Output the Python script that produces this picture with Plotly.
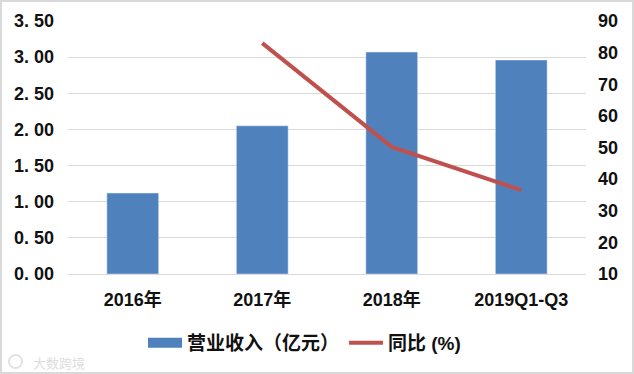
import plotly.graph_objects as go

categories = ["2016年", "2017年", "2018年", "2019Q1-Q3"]
revenue = [1.12, 2.05, 3.07, 2.96]
yoy = [None, 83, 50.2, 36.5]
left_ticks = [0, 0.5, 1, 1.5, 2, 2.5, 3, 3.5]
left_labels = ["0. 00", "0. 50", "1. 00", "1. 50", "2. 00", "2. 50", "3. 00", "3. 50"]
right_ticks = [10, 20, 30, 40, 50, 60, 70, 80, 90]

W, H = 634, 374
L, R, T, B = 68, 48, 21, 100
pw, ph = W - L - R, H - T - B
FONT = "Liberation Sans, Noto Sans CJK SC"
TXT = "#111111"
BLUE = "#4F81BD"
px = lambda v: (v - L) / pw
py = lambda v: 1 + (T - v) / ph

fig = go.Figure()
fig.add_bar(x=categories, y=revenue, name="营业收入（亿元）", marker_color=BLUE, width=0.4, showlegend=False)
fig.add_scatter(x=[categories[0]], y=[None], name="营业收入（亿元）", mode="lines",
                line=dict(color=BLUE, width=12), showlegend=True)
fig.add_scatter(x=categories, y=yoy, name="同比 (%)", yaxis="y2", mode="lines",
                line=dict(color="#C0504D", width=4), showlegend=True)
fig.update_layout(
    width=W, height=H, autosize=False,
    margin=dict(l=L, r=R, t=T, b=B),
    paper_bgcolor="white", plot_bgcolor="white",
    font=dict(family=FONT, color=TXT),
    xaxis=dict(type="category", showline=True, linecolor="#D9D9D9", linewidth=1, ticks="",
               showgrid=False, tickfont=dict(size=18, family=FONT, weight="bold"), ticklabelstandoff=9),
    yaxis=dict(range=[0, 3.5], tickvals=left_ticks, ticktext=left_labels, showgrid=True,
               gridcolor="#D9D9D9", gridwidth=1, zeroline=False, ticks="",
               tickfont=dict(size=18, family=FONT, weight="bold"), ticklabelstandoff=13),
    yaxis2=dict(range=[10, 90], tickvals=right_ticks, overlaying="y", side="right", showgrid=False,
                zeroline=False, ticks="", tickfont=dict(size=18, family=FONT, weight="bold"), ticklabelstandoff=11),
    legend=dict(orientation="h", x=px(143), xanchor="left", y=-(343 - T - ph) / ph, yanchor="middle",
                font=dict(size=19, family=FONT, weight="bold"), itemwidth=34, traceorder="normal"),
    showlegend=True,
    shapes=[dict(type="rect", xref="paper", yref="paper",
                 x0=px(1), x1=px(W - 1), y0=py(H - 1), y1=py(1),
                 line=dict(color="#D9D9D9", width=2), fillcolor="rgba(0,0,0,0)", layer="below"),
            dict(type="circle", xref="paper", yref="paper",
                 x0=px(9), x1=px(22), y0=py(368), y1=py(355),
                 line=dict(color="#E2E2E2", width=2), fillcolor="rgba(0,0,0,0)", layer="below")],
    annotations=[dict(text="大数跨境", xref="paper", yref="paper", x=px(31), xanchor="left",
                      y=py(362), yanchor="middle", showarrow=False,
                      font=dict(size=13, color="#DDDDDD", family="Noto Sans CJK SC"))],
)
fig.write_html("out.html", config={"displayModeBar": False},
               post_script="document.body.style.margin='0';document.body.style.overflow='hidden';")
